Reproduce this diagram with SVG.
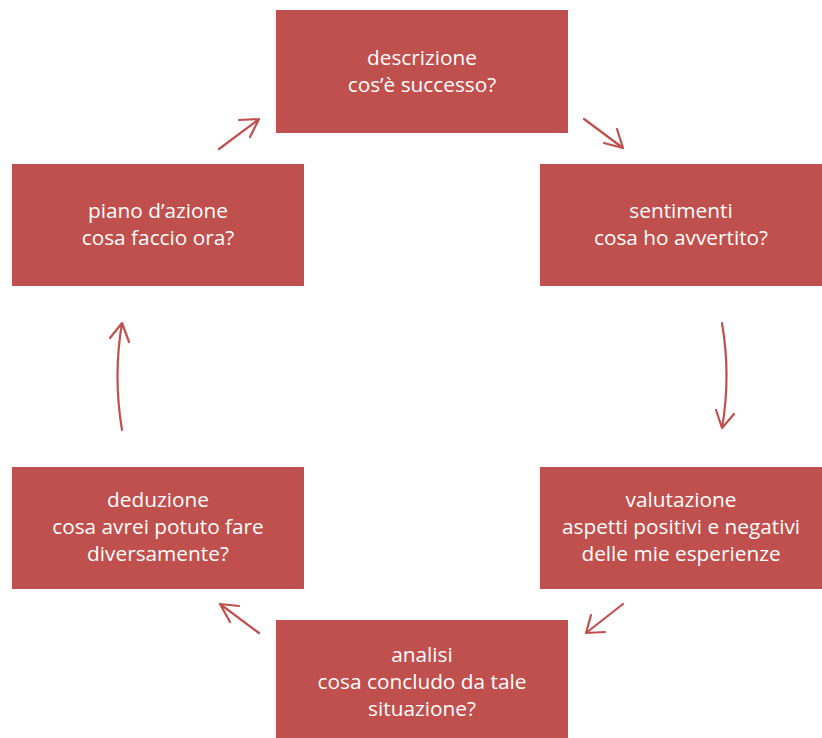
<svg xmlns="http://www.w3.org/2000/svg" width="822" height="738" viewBox="0 0 822 738">
<style>
.box{fill:#C0504D}
.t{font-family:"Open Sans","Liberation Sans",sans-serif;font-size:20.8px;fill:#FFFFFF;text-anchor:middle}
.c{fill:none;stroke:#C0504D;stroke-width:2.2;stroke-linecap:round;stroke-linejoin:round}
</style>
<rect width="822" height="738" fill="#FFFFFF"/>
<g id="descrizione"><rect class="box" x="276" y="10" width="292" height="123"/>
<text class="t" x="422" y="65">descrizione</text><text class="t" x="422" y="92">cos’è successo?</text></g>
<g id="sentimenti"><rect class="box" x="540" y="164" width="282" height="122"/>
<text class="t" x="681" y="218">sentimenti</text><text class="t" x="681" y="245">cosa ho avvertito?</text></g>
<g id="valutazione"><rect class="box" x="540" y="467" width="282" height="122"/>
<text class="t" x="681" y="507">valutazione</text><text class="t" x="681" y="534">aspetti positivi e negativi</text><text class="t" x="681" y="561">delle mie esperienze</text></g>
<g id="analisi"><rect class="box" x="276" y="620" width="292" height="118"/>
<text class="t" x="422" y="662">analisi</text><text class="t" x="422" y="689">cosa concludo da tale</text><text class="t" x="422" y="716">situazione?</text></g>
<g id="deduzione"><rect class="box" x="12" y="467" width="292" height="122"/>
<text class="t" x="158" y="507">deduzione</text><text class="t" x="158" y="534">cosa avrei potuto fare</text><text class="t" x="158" y="561">diversamente?</text></g>
<g id="piano"><rect class="box" x="12" y="164" width="292" height="122"/>
<text class="t" x="158" y="218">piano d’azione</text><text class="t" x="158" y="245">cosa faccio ora?</text></g>
<g id="connectors">
<path class="c" d="M584,119 L623,148 M617,129 L623,148 L604,143"/>
<path class="c" d="M722,323 Q731,376 722,428 M716,410 L722,428 L734,414"/>
<path class="c" d="M623,604 L586,633 M591,615 L586,633 L605,632"/>
<path class="c" d="M259,633 L220,604 M230,622 L220,604 L239,606"/>
<path class="c" d="M122,430 Q113,376 122,323 M110,338 L122,323 L129,342"/>
<path class="c" d="M219,149 L259,119 M239,120 L259,119 L250,137"/>
</g>
</svg>
